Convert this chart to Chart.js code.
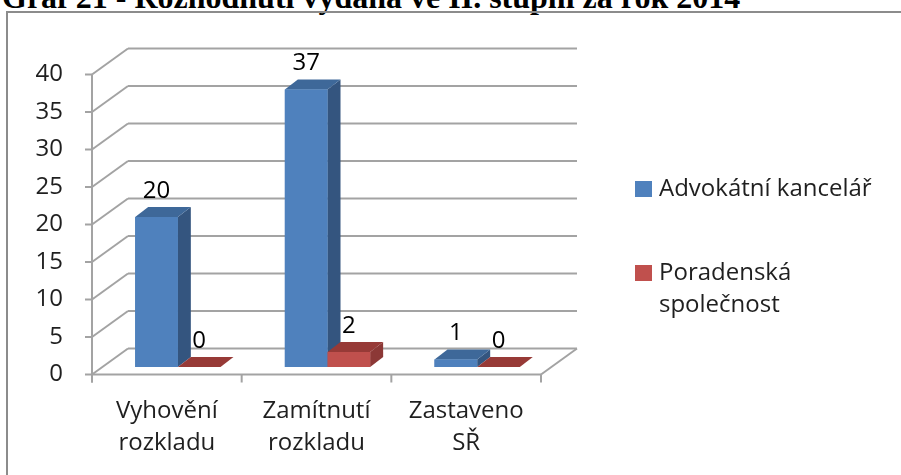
<!DOCTYPE html>
<html>
<head>
<meta charset="utf-8">
<script src="https://cdn.jsdelivr.net/npm/chart.js@4"></script>
<style>
    html, body { margin: 0; padding: 0; background: #fff; overflow: hidden; }
    #wrap { position: relative; width: 901px; height: 475px; overflow: hidden; }
    #title {
        position: absolute; left: 2px; top: -19px; white-space: nowrap;
        font: bold 32px/32px "Liberation Serif", "Times New Roman", serif; color: #000;
    }
    #frame {
        position: absolute; left: 6px; top: 11px; width: 1000px; height: 1000px;
        border-left: 2px solid #8c8c8c; border-top: 2px solid #8c8c8c;
    }
    canvas { position: absolute; left: 0; top: 0; }
</style>
</head>
<body>
<div id="wrap">
    <div id="title">Graf 21 - Rozhodnutí vydaná ve II. stupni za rok 2014</div>
    <div id="frame"></div>
    <canvas id="myChart" width="901" height="475"></canvas>
</div>
<script>
// data
const categories = [['Vyhovění', 'rozkladu'], ['Zamítnutí', 'rozkladu'], ['Zastaveno', 'SŘ']];
const seriesNames = ['Advokátní kancelář', 'Poradenská společnost'];
const advokatni = [20, 37, 1];
const poradenska = [0, 2, 0];
const yMin = 0, yMax = 40, yStep = 5;

const FONT = '"Open Sans", Lato, sans-serif';
const FONT_SIZE = 24;

// 3d look: front plane / back wall offsets from the bar plane, and bar depth
const FRONT = { dx: -11, dy: 7.5 };
const BACK = { dx: 25, dy: -18.5 };
const BAR_DEPTH = { dx: 13, dy: -10 };

const faces = [
    { front: '#4f81bd', side: '#34557f', top: '#3e6899' },
    { front: '#c0504d', side: '#8c3836', top: '#973a37' }
];

function line(ctx, x0, y0, x1, y1) {
    ctx.beginPath();
    ctx.moveTo(x0, y0);
    ctx.lineTo(x1, y1);
    ctx.stroke();
}

function poly(ctx, pts, color) {
    ctx.beginPath();
    ctx.moveTo(pts[0][0], pts[0][1]);
    for (let i = 1; i < pts.length; i++) ctx.lineTo(pts[i][0], pts[i][1]);
    ctx.closePath();
    ctx.fillStyle = color;
    ctx.fill();
}

const walls3d = {
    id: 'walls3d',
    beforeDatasetsDraw(chart) {
        const ctx = chart.ctx;
        const { left, right, bottom } = chart.chartArea;
        const y = chart.scales.y;
        const x = chart.scales.x;
        ctx.save();
        ctx.strokeStyle = '#a3a3a3';
        ctx.lineWidth = 2;
        y.ticks.forEach(t => {
            const py = y.getPixelForValue(t.value);
            line(ctx, left + BACK.dx, py + BACK.dy, right + BACK.dx, py + BACK.dy);
            line(ctx, left + FRONT.dx, py + FRONT.dy, left + BACK.dx, py + BACK.dy);
            line(ctx, left + FRONT.dx - 7, py + FRONT.dy, left + FRONT.dx, py + FRONT.dy);
        });
        // front axis and floor edges
        const yTop = y.getPixelForValue(yMax) + FRONT.dy;
        const yFloor = bottom + FRONT.dy;
        line(ctx, left + FRONT.dx, yTop, left + FRONT.dx, yFloor + 8);
        line(ctx, left + FRONT.dx, yFloor, right + FRONT.dx, yFloor);
        line(ctx, right + FRONT.dx, yFloor, right + BACK.dx, bottom + BACK.dy);
        // category tick marks
        const catW = (x.right - x.left) / categories.length;
        for (let i = 0; i <= categories.length; i++) {
            const px = x.left + i * catW + FRONT.dx;
            line(ctx, px, yFloor, px, yFloor + 8);
        }
        ctx.restore();
    },
    afterDatasetsDraw(chart) {
        const ctx = chart.ctx;
        ctx.save();
        chart.data.datasets.forEach((ds, di) => {
            const meta = chart.getDatasetMeta(di);
            meta.data.forEach(bar => {
                const x0 = bar.x - bar.width / 2;
                const x1 = bar.x + bar.width / 2;
                const yt = bar.y, yb = bar.base;
                const dx = BAR_DEPTH.dx, dy = BAR_DEPTH.dy;
                poly(ctx, [[x1, yt], [x1 + dx, yt + dy], [x1 + dx, yb + dy], [x1, yb]], faces[di].side);
                poly(ctx, [[x0, yt], [x1, yt], [x1 + dx, yt + dy], [x0 + dx, yt + dy]], faces[di].top);
                bar.draw(ctx);
            });
        });
        // value labels
        ctx.fillStyle = '#000';
        ctx.font = FONT_SIZE + 'px ' + FONT;
        ctx.textAlign = 'center';
        ctx.textBaseline = 'middle';
        chart.data.datasets.forEach((ds, di) => {
            chart.getDatasetMeta(di).data.forEach((bar, i) => {
                ctx.fillText(String(ds.data[i]), bar.x, bar.y - 26);
            });
        });
        ctx.restore();
    },
    afterDraw(chart) {
        // legend on the right
        const ctx = chart.ctx;
        ctx.save();
        ctx.font = FONT_SIZE + 'px ' + FONT;
        ctx.textAlign = 'left';
        ctx.textBaseline = 'middle';
        const lx = 635, maxW = 235;
        const rows = [189, 273];
        chart.data.datasets.forEach((ds, di) => {
            const words = ds.label.split(' ');
            const lines = [];
            let cur = '';
            words.forEach(w => {
                const test = cur ? cur + ' ' + w : w;
                if (ctx.measureText(test).width > maxW && cur) {
                    lines.push(cur);
                    cur = w;
                } else {
                    cur = test;
                }
            });
            lines.push(cur);
            const cy = rows[di];
            ctx.fillStyle = ds.backgroundColor;
            ctx.fillRect(lx, cy - 8, 17, 16);
            ctx.fillStyle = '#1f1f1f';
            lines.forEach((t, k) => ctx.fillText(t, lx + 24, cy + k * 32));
        });
        ctx.restore();
    }
};

const ctx = document.getElementById('myChart').getContext('2d');
const chart = new Chart(ctx, {
    type: 'bar',
    data: {
        labels: categories,
        datasets: [
            { label: seriesNames[0], data: advokatni, backgroundColor: faces[0].front },
            { label: seriesNames[1], data: poradenska, backgroundColor: faces[1].front }
        ]
    },
    options: {
        responsive: false,
        animation: false,
        events: [],
        layout: { padding: { left: 0, right: 349, top: 67, bottom: 0 } },
        datasets: {
            bar: { categoryPercentage: 0.57, barPercentage: 1, borderWidth: 0 }
        },
        plugins: {
            legend: { display: false },
            tooltip: { enabled: false }
        },
        scales: {
            x: {
                grid: { display: false, drawTicks: false },
                border: { display: false },
                ticks: {
                    color: '#1f1f1f',
                    font: { family: FONT, size: FONT_SIZE, lineHeight: 1.3 },
                    padding: 29,
                    labelOffset: FRONT.dx,
                    maxRotation: 0
                },
                afterFit: s => { s.height = 108; }
            },
            y: {
                min: yMin,
                max: yMax,
                grid: { display: false, drawTicks: false },
                border: { display: false },
                ticks: {
                    stepSize: yStep,
                    color: '#1f1f1f',
                    font: { family: FONT, size: FONT_SIZE },
                    padding: 40,
                    labelOffset: FRONT.dy
                },
                afterFit: s => { s.width = 103; }
            }
        }
    },
    plugins: [walls3d]
});
</script>
</body>
</html>
